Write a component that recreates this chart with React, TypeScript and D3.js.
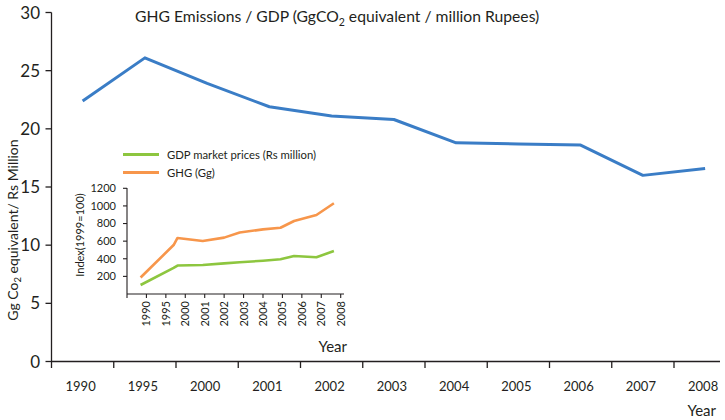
import React from "react";
import * as d3 from "d3";

const years = ["1990","1995","2000","2001","2002","2003","2004","2005","2006","2007","2008"];
const ratio = [22.4, 26.1, 23.9, 21.9, 21.1, 20.8, 18.8, 18.7, 18.6, 16.0, 16.6];
const yTicks = [0, 5, 10, 15, 20, 25, 30];

// inset: positions along the year axis (fractional year index), values index 1999=100
const insetPos = [-0.3, 1.4, 1.6, 2.9, 4.0, 4.8, 6.0, 6.9, 7.6, 8.75, 9.65];
const ghgIndex = [187, 556, 636, 602, 640, 698, 734, 752, 829, 897, 1030];
const gdpIndex = [102, 296, 323, 329, 348, 360, 378, 394, 431, 417, 488];
const insetYTicks = [200, 400, 600, 800, 1000, 1200];

const BLUE = "#3a7dc6";
const GREEN = "#8dc63f";
const ORANGE = "#f7964b";
const AXIS = "#231f20";
const FONT = "Lato, 'Open Sans', sans-serif";

export default function App() {
  const W = 725, H = 420;
  const x = d3.scaleBand<string>().domain(years).range([51.5, 51.5 + 62.25 * 11]).padding(0);
  const y = d3.scaleLinear().domain([0, 30]).range([361.5, 12.5]);
  const line = d3.line<number>().x((_, i) => (x(years[i]) as number) + x.bandwidth() / 2).y((d) => y(d));

  const ix = d3.scaleLinear().domain([-1, 10]).range([127, 340.7]);
  const iy = d3.scaleLinear().domain([0, 1200]).range([294, 188.3]);
  const iline = (vals: number[]) =>
    d3.line<number>().x((_, i) => ix(insetPos[i])).y((d) => iy(d))(vals) as string;

  return (
    <svg width={W} height={H} style={{ position: "absolute", left: 0, top: 0, background: "#fff" }} fontFamily={FONT}>
      {/* title */}
      <text x={135} y={22} fontSize={15.7} fill={AXIS}>
        GHG Emissions / GDP (GgCO<tspan fontSize={10.5} dy={4}>2</tspan>
        <tspan dy={-4}> equivalent / million Rupees)</tspan>
      </text>

      {/* main axes */}
      <line x1={51.5} x2={51.5} y1={12.5} y2={368} stroke={AXIS} strokeWidth={1.3} />
      <line x1={51.5} x2={720} y1={361.5} y2={361.5} stroke={AXIS} strokeWidth={1.3} />
      {yTicks.map((t) => (
        <g key={t}>
          <line x1={45.5} x2={51.5} y1={y(t)} y2={y(t)} stroke={AXIS} strokeWidth={1.3} />
          <text x={40} y={y(t)} dy="0.36em" textAnchor="end" fontSize={17} fill={AXIS}>{t}</text>
        </g>
      ))}
      {years.slice(1).map((yr) => (
        <line key={yr} x1={x(yr) as number} x2={x(yr) as number} y1={361.5} y2={368} stroke={AXIS} strokeWidth={1.3} />
      ))}
      {years.map((yr) => (
        <text key={yr} x={(x(yr) as number) + x.bandwidth() / 2 - 2} y={391} textAnchor="middle" fontSize={13} fill={AXIS}>{yr}</text>
      ))}
      <text x={716} y={416} textAnchor="end" fontSize={15} fill={AXIS}>Year</text>
      <text transform="translate(18,230) rotate(-90)" textAnchor="middle" fontSize={14} fill={AXIS}>
        Gg Co<tspan fontSize={9.5} dy={3}>2</tspan><tspan dy={-3}> equivalent/ Rs Million</tspan>
      </text>

      {/* main line */}
      <path d={line(ratio) as string} fill="none" stroke={BLUE} strokeWidth={3} strokeLinejoin="round" />

      {/* legend */}
      <line x1={123} x2={159} y1={154.5} y2={154.5} stroke={GREEN} strokeWidth={3} />
      <text x={167} y={158.5} fontSize={11.3} fill={AXIS}>GDP market prices (Rs million)</text>
      <line x1={123} x2={159} y1={172.5} y2={172.5} stroke={ORANGE} strokeWidth={3} />
      <text x={167} y={176.5} fontSize={11.3} fill={AXIS}>GHG (Gg)</text>

      {/* inset axes */}
      <line x1={127} x2={127} y1={188} y2={298} stroke={AXIS} strokeWidth={1.1} />
      <line x1={127} x2={344} y1={294} y2={294} stroke={AXIS} strokeWidth={1.1} />
      {insetYTicks.map((t) => (
        <g key={t}>
          <line x1={123} x2={127} y1={iy(t)} y2={iy(t)} stroke={AXIS} strokeWidth={1.1} />
          <text x={116} y={iy(t)} dy="0.36em" textAnchor="end" fontSize={11} fill={AXIS}>{t}</text>
        </g>
      ))}
      {years.map((yr, i) => (
        <g key={yr}>
          <line x1={ix(i)} x2={ix(i)} y1={294} y2={298} stroke={AXIS} strokeWidth={1.1} />
          <text transform={`translate(${ix(i)},301) rotate(-90)`} dy="0.36em" textAnchor="end" fontSize={11} fill={AXIS}>{yr}</text>
        </g>
      ))}
      <text x={347} y={352} textAnchor="end" fontSize={15} fill={AXIS}>Year</text>
      <text transform="translate(84,235) rotate(-90)" textAnchor="middle" fontSize={11} fill={AXIS}>Index(1999=100)</text>

      <path d={iline(ghgIndex)} fill="none" stroke={ORANGE} strokeWidth={2.6} strokeLinejoin="round" />
      <path d={iline(gdpIndex)} fill="none" stroke={GREEN} strokeWidth={2.6} strokeLinejoin="round" />
    </svg>
  );
}
